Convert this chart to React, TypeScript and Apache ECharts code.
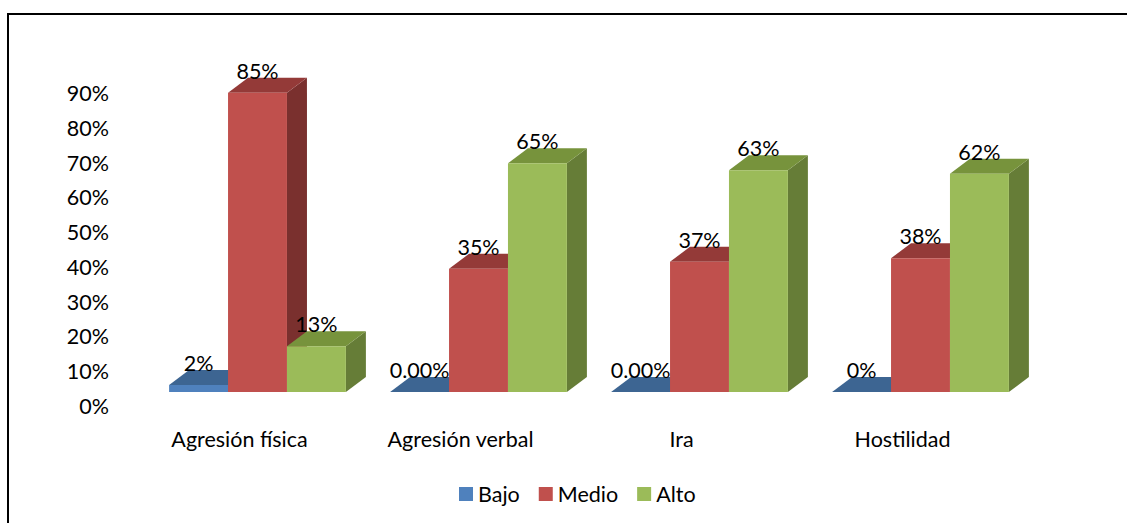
import React, { useEffect, useRef } from "react";
import * as echarts from "echarts";

const categories = ["Agresión física", "Agresión verbal", "Ira", "Hostilidad"];
const seriesNames = ["Bajo", "Medio", "Alto"];
const bajoValues = [0.02, 0, 0, 0];
const medioValues = [0.85, 0.35, 0.37, 0.38];
const altoValues = [0.13, 0.65, 0.63, 0.62];
const bajoLabels = ["2%", "0.00%", "0.00%", "0%"];
const medioLabels = ["85%", "35%", "37%", "38%"];
const altoLabels = ["13%", "65%", "63%", "62%"];

const FONT = "Lato";
const FS = 21.5;

const palette = [
  { front: "#4F81BD", top: "#3D6592", side: "#385D8A" },
  { front: "#C0504D", top: "#943A38", side: "#7A302E" },
  { front: "#9BBB59", top: "#77933C", side: "#667D37" },
];

function makeRender(si: number, labels: string[]) {
  const c = palette[si];
  return (params: any, api: any) => {
    const idx = api.value(0);
    const v = api.value(1);
    const base = api.coord([idx, 0]);
    const tip = api.coord([idx, v]);
    const band = api.size([1, 0])[0];
    const w = (band * 0.8) / 3;
    const x = base[0] - 1.5 * w + si * w;
    const y0 = base[1];
    const y1 = tip[1];
    const dx = 20;
    const dy = 15;
    return {
      type: "group",
      children: [
        {
          type: "polygon",
          shape: { points: [[x + w, y1], [x + w + dx, y1 - dy], [x + w + dx, y0 - dy], [x + w, y0]] },
          style: { fill: c.side },
        },
        {
          type: "polygon",
          shape: { points: [[x, y1], [x + w, y1], [x + w + dx, y1 - dy], [x + dx, y1 - dy]] },
          style: { fill: c.top },
        },
        {
          type: "rect",
          shape: { x, y: y1, width: w, height: Math.max(0, y0 - y1) },
          style: { fill: c.front },
        },
        {
          type: "text",
          x: x + w / 2,
          y: y1 - 22,
          z2: 100,
          style: {
            text: labels[idx],
            fill: "#000",
            fontSize: FS,
            fontFamily: FONT,
            align: "center",
            verticalAlign: "middle",
            textAlign: "center",
            textVerticalAlign: "middle",
          },
        },
      ],
    };
  };
}

export default function App() {
  const ref = useRef<HTMLDivElement>(null);
  useEffect(() => {
    if (!ref.current) return;
    const chart = echarts.init(ref.current, undefined, { renderer: "svg" });
    const valueSets = [bajoValues, medioValues, altoValues];
    const labelSets = [bajoLabels, medioLabels, altoLabels];
    chart.setOption({
      animation: false,
      backgroundColor: "#fff",
      textStyle: { fontFamily: FONT },
      graphic: [
        {
          type: "rect",
          shape: { x: 8, y: 14, width: 1200, height: 600 },
          style: { fill: "none", stroke: "#000", lineWidth: 2 },
          silent: true,
        },
      ],
      legend: {
        data: seriesNames,
        left: 454,
        top: 478,
        icon: "rect",
        itemWidth: 14,
        itemHeight: 14,
        itemGap: 19,
        textStyle: { fontSize: FS, fontFamily: FONT, color: "#000" },
      },
      grid: [
        { left: 117, top: 93, width: 20, height: 313 },
        { left: 147, top: 75.2, width: 884, height: 316.8 },
      ],
      xAxis: [
        { type: "value", gridIndex: 0, show: false },
        {
          type: "category",
          gridIndex: 1,
          data: categories,
          axisLine: { show: false },
          axisTick: { show: false },
          axisLabel: {
            margin: 36,
            fontSize: FS,
            fontFamily: FONT,
            color: "#000",
            padding: [0, 36, 0, 0],
          },
        },
      ],
      yAxis: [
        {
          type: "value",
          gridIndex: 0,
          min: 0,
          max: 0.9,
          interval: 0.1,
          axisLine: { show: false },
          axisTick: { show: false },
          splitLine: { show: false },
          axisLabel: {
            margin: 8,
            fontSize: FS,
            fontFamily: FONT,
            color: "#000",
            formatter: (v: number) => Math.round(v * 100) + "%",
          },
        },
        { type: "value", gridIndex: 1, min: 0, max: 0.9, show: false },
      ],
      series: seriesNames.map((name, si) => ({
        name,
        type: "custom",
        xAxisIndex: 1,
        yAxisIndex: 1,
        itemStyle: { color: palette[si].front },
        encode: { x: 0, y: 1 },
        data: valueSets[si].map((v, i) => [i, v]),
        renderItem: makeRender(si, labelSets[si]),
      })),
    });
    return () => chart.dispose();
  }, []);
  return (
    <div
      ref={ref}
      style={{ position: "fixed", left: 0, top: 0, width: 1127, height: 523 }}
    />
  );
}
